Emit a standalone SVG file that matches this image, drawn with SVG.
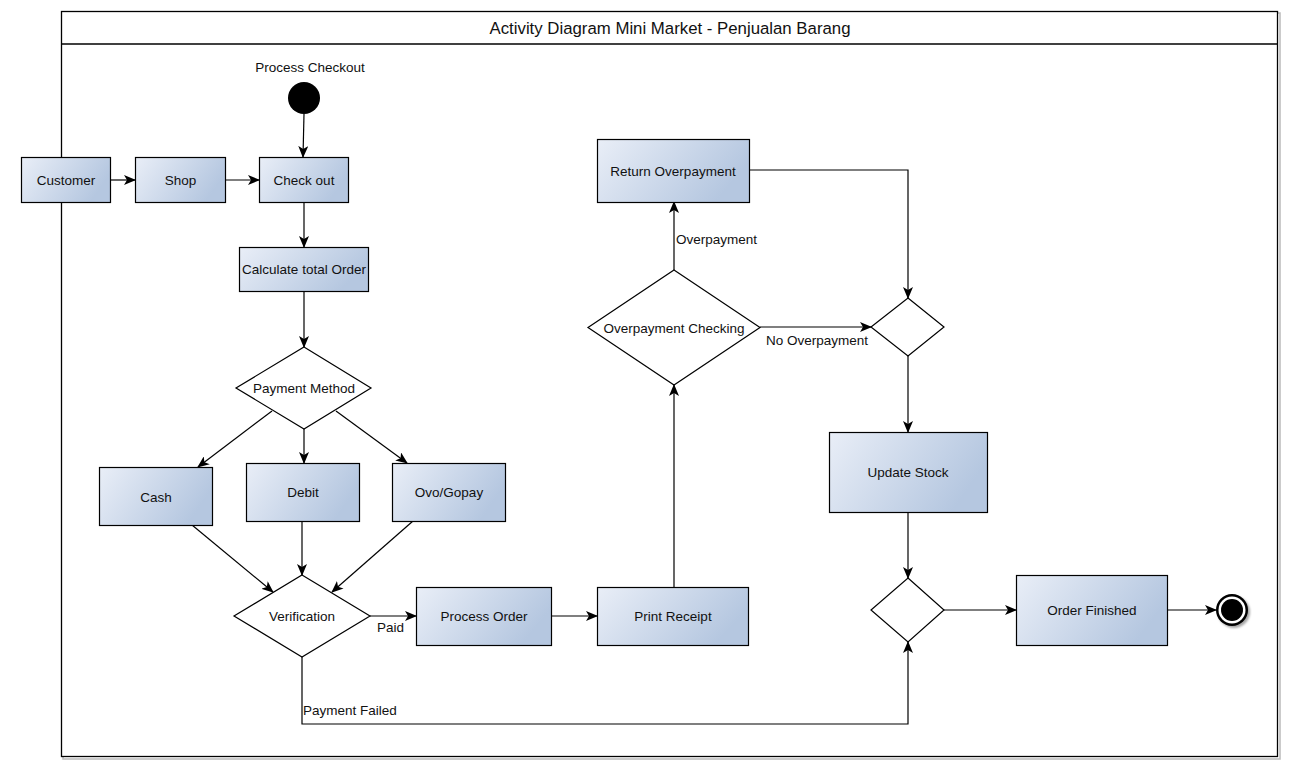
<svg xmlns="http://www.w3.org/2000/svg" width="1295" height="773" viewBox="0 0 1295 773">
<style>
text{font-family:"Liberation Sans",Arial,sans-serif;font-size:13.5px;fill:#111;}
.t{text-anchor:middle;dominant-baseline:central;}
.act{fill:url(#g);stroke:#000;stroke-width:1.2;}
.dec{fill:#fff;stroke:#000;stroke-width:1.2;}
.c{fill:none;stroke:#000;stroke-width:1.2;marker-end:url(#a);}
.lbl{font-size:13.5px;}
</style>
<defs>
<linearGradient id="g" x1="0" y1="0" x2="1" y2="0.35">
<stop offset="0" stop-color="#e9eef7"/>
<stop offset="1" stop-color="#b5c7e0"/>
</linearGradient>
<marker id="a" viewBox="0 0 12 10" refX="11" refY="5" markerWidth="12" markerHeight="10" markerUnits="userSpaceOnUse" orient="auto">
<path d="M0,0 L12,5 L0,10 L3,5 Z" fill="#000"/>
</marker>
<filter id="sh" x="-30%" y="-30%" width="160%" height="160%">
<feDropShadow dx="2" dy="2" stdDeviation="1.2" flood-color="#000" flood-opacity="0.35"/>
</filter>
</defs>
<rect x="0" y="0" width="1295" height="773" fill="#fff"/>
<g id="frame">
<rect x="63" y="13" width="1217" height="746" fill="none" stroke="#bbb" stroke-width="1.5"/>
<rect x="61.5" y="11.5" width="1216" height="745" fill="#fff" stroke="#000" stroke-width="1.3"/>
<line x1="61.5" y1="44" x2="1277.5" y2="44" stroke="#000" stroke-width="1.3"/>
<text class="t" x="670" y="28" style="font-size:16.8px">Activity Diagram Mini Market - Penjualan Barang</text>
</g>
<g id="connectors">
<line class="c" x1="110" y1="180" x2="135" y2="180"/>
<line class="c" x1="225" y1="180" x2="259" y2="180"/>
<line class="c" x1="304" y1="114" x2="303" y2="157"/>
<line class="c" x1="304" y1="202" x2="304" y2="247"/>
<line class="c" x1="304" y1="291" x2="304" y2="347"/>
<line class="c" x1="272" y1="411" x2="198" y2="467"/>
<line class="c" x1="304" y1="429" x2="304" y2="463"/>
<line class="c" x1="336" y1="411" x2="407" y2="463"/>
<line class="c" x1="192" y1="525" x2="273" y2="592"/>
<line class="c" x1="302" y1="521" x2="302" y2="575"/>
<line class="c" x1="413" y1="521" x2="332" y2="592"/>
<line class="c" x1="370" y1="616" x2="416" y2="616"/>
<text class="lbl" x="377" y="632">Paid</text>
<polyline class="c" points="302,657 302,724 908,724 908,642"/>
<text class="lbl" x="303" y="715">Payment Failed</text>
<line class="c" x1="551" y1="616" x2="597" y2="616"/>
<line class="c" x1="674" y1="587" x2="674" y2="385"/>
<line class="c" x1="674" y1="270" x2="674" y2="202"/>
<text class="lbl" x="676" y="244">Overpayment</text>
<line class="c" x1="760" y1="327" x2="871" y2="327"/>
<text class="lbl" x="766" y="345">No Overpayment</text>
<polyline class="c" points="749,170 908,170 908,298"/>
<line class="c" x1="908" y1="356" x2="908" y2="432"/>
<line class="c" x1="908" y1="512" x2="908" y2="578"/>
<line class="c" x1="944" y1="610" x2="1016" y2="610"/>
<line class="c" x1="1167" y1="610" x2="1216" y2="610"/>
</g>
<g id="start">
<circle cx="304" cy="98" r="16" fill="#000"/>
<text class="t" x="310" y="67">Process Checkout</text>
</g>
<g id="customer"><rect class="act" x="21.5" y="157.5" width="89" height="45"/><text class="t" x="66" y="180">Customer</text></g>
<g id="shop"><rect class="act" x="135.5" y="157.5" width="90" height="45"/><text class="t" x="180.5" y="180">Shop</text></g>
<g id="checkout"><rect class="act" x="259.5" y="157.5" width="89" height="45"/><text class="t" x="304" y="180">Check out</text></g>
<g id="calc"><rect class="act" x="239.5" y="247.5" width="129" height="44"/><text class="t" x="304" y="269">Calculate total Order</text></g>
<g id="paymentMethod"><polygon class="dec" points="304,347 371,388 304,429 236,388"/><text class="t" x="304" y="388">Payment Method</text></g>
<g id="cash"><rect class="act" x="99.5" y="467.5" width="113" height="58"/><text class="t" x="156" y="497">Cash</text></g>
<g id="debit"><rect class="act" x="246.5" y="463.5" width="113" height="58"/><text class="t" x="303" y="492">Debit</text></g>
<g id="ovo"><rect class="act" x="392.5" y="463.5" width="113" height="58"/><text class="t" x="449" y="492">Ovo/Gopay</text></g>
<g id="verification"><polygon class="dec" points="302,575 370,616 302,657 234,616"/><text class="t" x="302" y="616">Verification</text></g>
<g id="processOrder"><rect class="act" x="416.5" y="587.5" width="135" height="58"/><text class="t" x="484" y="616">Process Order</text></g>
<g id="printReceipt"><rect class="act" x="597.5" y="587.5" width="151" height="58"/><text class="t" x="673" y="616">Print Receipt</text></g>
<g id="overpaymentChecking"><polygon class="dec" points="674,270 760,327.5 674,385 588,327.5"/><text class="t" x="674" y="328">Overpayment Checking</text></g>
<g id="returnOverpayment"><rect class="act" x="597.5" y="139.5" width="152" height="63"/><text class="t" x="673" y="171">Return Overpayment</text></g>
<g id="merge1"><polygon class="dec" points="908,298 944,327 908,356 871,327"/></g>
<g id="updateStock"><rect class="act" x="829.5" y="432.5" width="158" height="80"/><text class="t" x="908" y="472">Update Stock</text></g>
<g id="merge2"><polygon class="dec" points="908,578 944,610 908,642 871,610"/></g>
<g id="orderFinished"><rect class="act" x="1016.5" y="575.5" width="151" height="70"/><text class="t" x="1092" y="610">Order Finished</text></g>
<g id="end" filter="url(#sh)">
<circle cx="1232" cy="610" r="16" fill="#000"/>
<circle cx="1232" cy="610" r="13.5" fill="#fff"/>
<circle cx="1232" cy="610" r="11" fill="#000"/>
</g>
</svg>
